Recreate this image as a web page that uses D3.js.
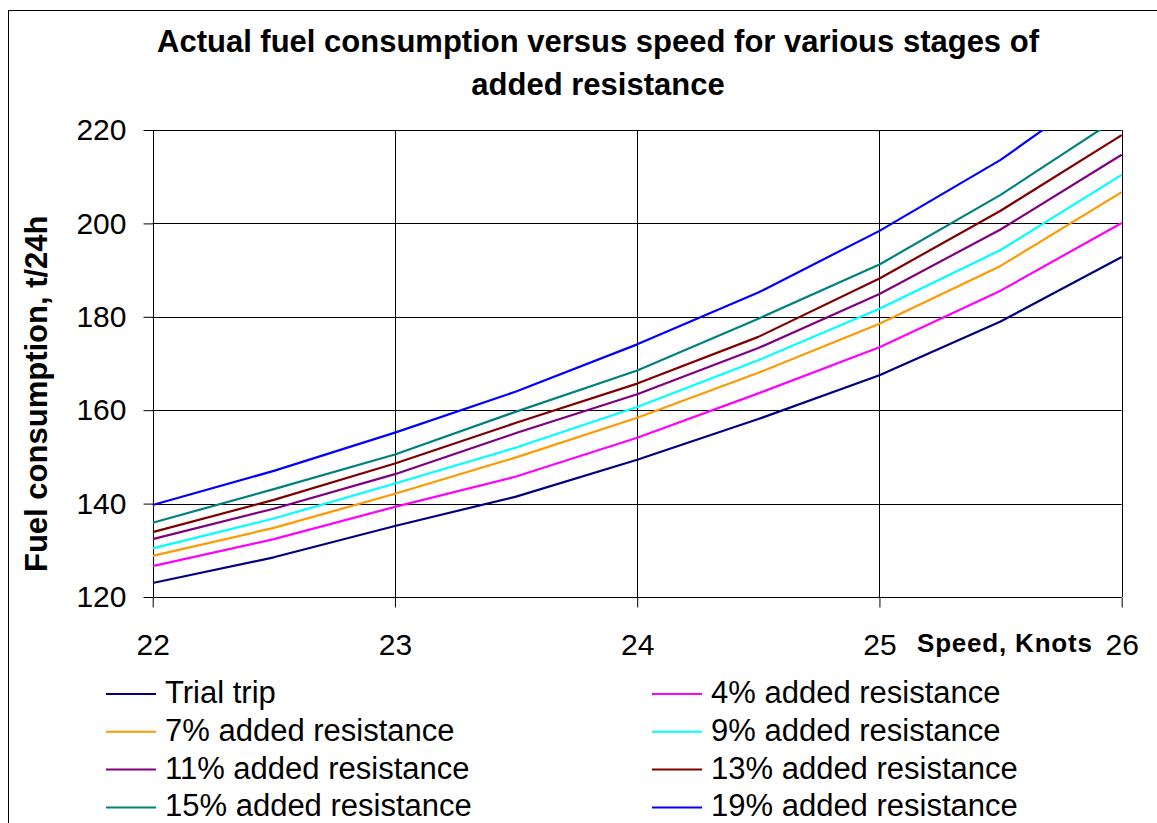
<!DOCTYPE html>
<html>
<head>
<meta charset="utf-8">
<script src="https://cdn.jsdelivr.net/npm/d3@7"></script>
<style>
  body { margin: 0; background: #fff; }
  svg { display: block; font-family: "Liberation Sans", Arial, sans-serif; }
</style>
</head>
<body>
<div id="chart"></div>
<script>
// Speeds (knots) where the curves were read
const speeds = [22, 22.5, 23, 23.5, 24, 24.5, 25, 25.5, 26];

// Fuel consumption, t/24h
const trialTrip = [123.0, 128.5, 135.2, 141.5, 149.4, 158.1, 167.5, 179.0, 192.8];
const added4 = [126.6, 132.4, 139.3, 145.8, 154.1, 163.6, 173.5, 185.6, 200.1];
const added7 = [128.8, 134.8, 142.1, 149.9, 158.4, 168.0, 178.5, 190.9, 206.7];
const added9 = [130.4, 136.8, 144.3, 152.0, 160.7, 170.7, 181.7, 194.3, 210.4];
const added11 = [132.4, 138.9, 146.3, 155.1, 163.4, 173.3, 184.9, 198.7, 214.7];
const added13 = [133.9, 140.8, 148.6, 157.3, 165.7, 175.7, 188.2, 202.7, 218.9];
const added15 = [135.9, 143.1, 150.5, 159.7, 168.5, 179.6, 191.2, 206.1, 223.1];
const added19 = [139.7, 147.0, 155.2, 164.0, 174.1, 185.2, 198.4, 213.6, 232.0];

const seriesNames = ["Trial trip", "4% added resistance", "7% added resistance", "9% added resistance",
  "11% added resistance", "13% added resistance", "15% added resistance", "19% added resistance"];
const seriesValues = [trialTrip, added4, added7, added9, added11, added13, added15, added19];
const seriesColors = ["#000080", "#ff00ff", "#ff9900", "#00ffff", "#800080", "#800000", "#008080", "#0000ff"];

const xTicks = [22, 23, 24, 25, 26];
const yTicks = [120, 140, 160, 180, 200, 220];

const width = 1157, height = 823;
const plot = { left: 152.7, right: 1121.7, top: 130, bottom: 597 };

const svg = d3.select("#chart").append("svg")
  .attr("width", width)
  .attr("height", height);

// outer chart border (runs off the right and bottom edge)
svg.append("rect")
  .attr("x", 8.5).attr("y", 10.5)
  .attr("width", 1170).attr("height", 830)
  .attr("fill", "none")
  .attr("stroke", "#000")
  .attr("stroke-width", 1);

var x = d3.scaleLinear().domain([22, 26]).range([plot.left, plot.right]);
var y = d3.scaleLinear().domain([120, 220]).range([plot.bottom, plot.top]);

// Title
svg.append("text")
  .attr("x", 598).attr("y", 52)
  .attr("text-anchor", "middle")
  .style("font-size", "31px").style("font-weight", "bold")
  .text("Actual fuel consumption versus speed for various stages of");
svg.append("text")
  .attr("x", 598).attr("y", 95)
  .attr("text-anchor", "middle")
  .style("font-size", "31px").style("font-weight", "bold")
  .text("added resistance");

// gridlines
svg.append("g")
  .selectAll("line.h")
  .data(yTicks)
  .enter().append("line")
  .attr("x1", plot.left).attr("x2", plot.right)
  .attr("y1", d => Math.round(y(d)) + 0.5).attr("y2", d => Math.round(y(d)) + 0.5)
  .attr("stroke", "#000").attr("stroke-width", 1);

svg.append("g")
  .selectAll("line.v")
  .data(xTicks)
  .enter().append("line")
  .attr("x1", d => Math.round(x(d)) + 0.5).attr("x2", d => Math.round(x(d)) + 0.5)
  .attr("y1", plot.top).attr("y2", plot.bottom)
  .attr("stroke", "#000").attr("stroke-width", 1);

// Y axis
var yAxis = svg.append("g")
  .attr("transform", "translate(" + (Math.round(plot.left) + 0.5) + ",0)")
  .call(d3.axisLeft(y).tickValues(yTicks).tickSize(10).tickPadding(17).tickFormat(d3.format("d")));
yAxis.select(".domain").remove();
yAxis.selectAll("text").style("font-size", "30px").attr("fill", "#000");
yAxis.selectAll("line").attr("stroke", "#000");

// X axis
var xAxis = svg.append("g")
  .attr("transform", "translate(0," + (Math.round(plot.bottom) + 0.5) + ")")
  .call(d3.axisBottom(x).tickValues(xTicks).tickSize(10).tickPadding(26).tickFormat(d3.format("d")));
xAxis.select(".domain").remove();
xAxis.selectAll("text").style("font-size", "30px").attr("fill", "#000");
xAxis.selectAll("line").attr("stroke", "#000");

// axis titles
svg.append("text")
  .attr("x", 917).attr("y", 652)
  .style("font-size", "26px").style("font-weight", "bold")
  .style("letter-spacing", "0.8px")
  .text("Speed, Knots");

svg.append("text")
  .attr("transform", "translate(47,572) rotate(-90)")
  .style("font-size", "31px").style("font-weight", "bold")
  .text("Fuel consumption, t/24h");

// clip lines to plot area
svg.append("clipPath").attr("id", "plot-clip")
  .append("rect")
  .attr("x", plot.left).attr("y", plot.top)
  .attr("width", plot.right - plot.left + 2)
  .attr("height", plot.bottom - plot.top);

var line = d3.line()
  .x((d, i) => x(speeds[i]))
  .y(d => y(d));

svg.append("g")
  .attr("clip-path", "url(#plot-clip)")
  .selectAll("path")
  .data(seriesValues)
  .enter().append("path")
  .attr("d", line)
  .attr("fill", "none")
  .attr("stroke", (d, i) => seriesColors[i])
  .attr("stroke-width", 2.2)
  .attr("stroke-linejoin", "round");

// legend, two columns
var legend = svg.append("g")
  .selectAll("g")
  .data(seriesNames)
  .enter().append("g")
  .attr("transform", (d, i) => "translate(" + (i % 2 === 0 ? 106 : 652) + "," + (703 + Math.floor(i / 2) * 37.8) + ")");

legend.append("line")
  .attr("x1", 0).attr("x2", 50)
  .attr("y1", -9).attr("y2", -9)
  .attr("stroke", (d, i) => seriesColors[i])
  .attr("stroke-width", 2);

legend.append("text")
  .attr("x", 59).attr("y", 0)
  .style("font-size", "31px")
  .text(d => d);
</script>
</body>
</html>
